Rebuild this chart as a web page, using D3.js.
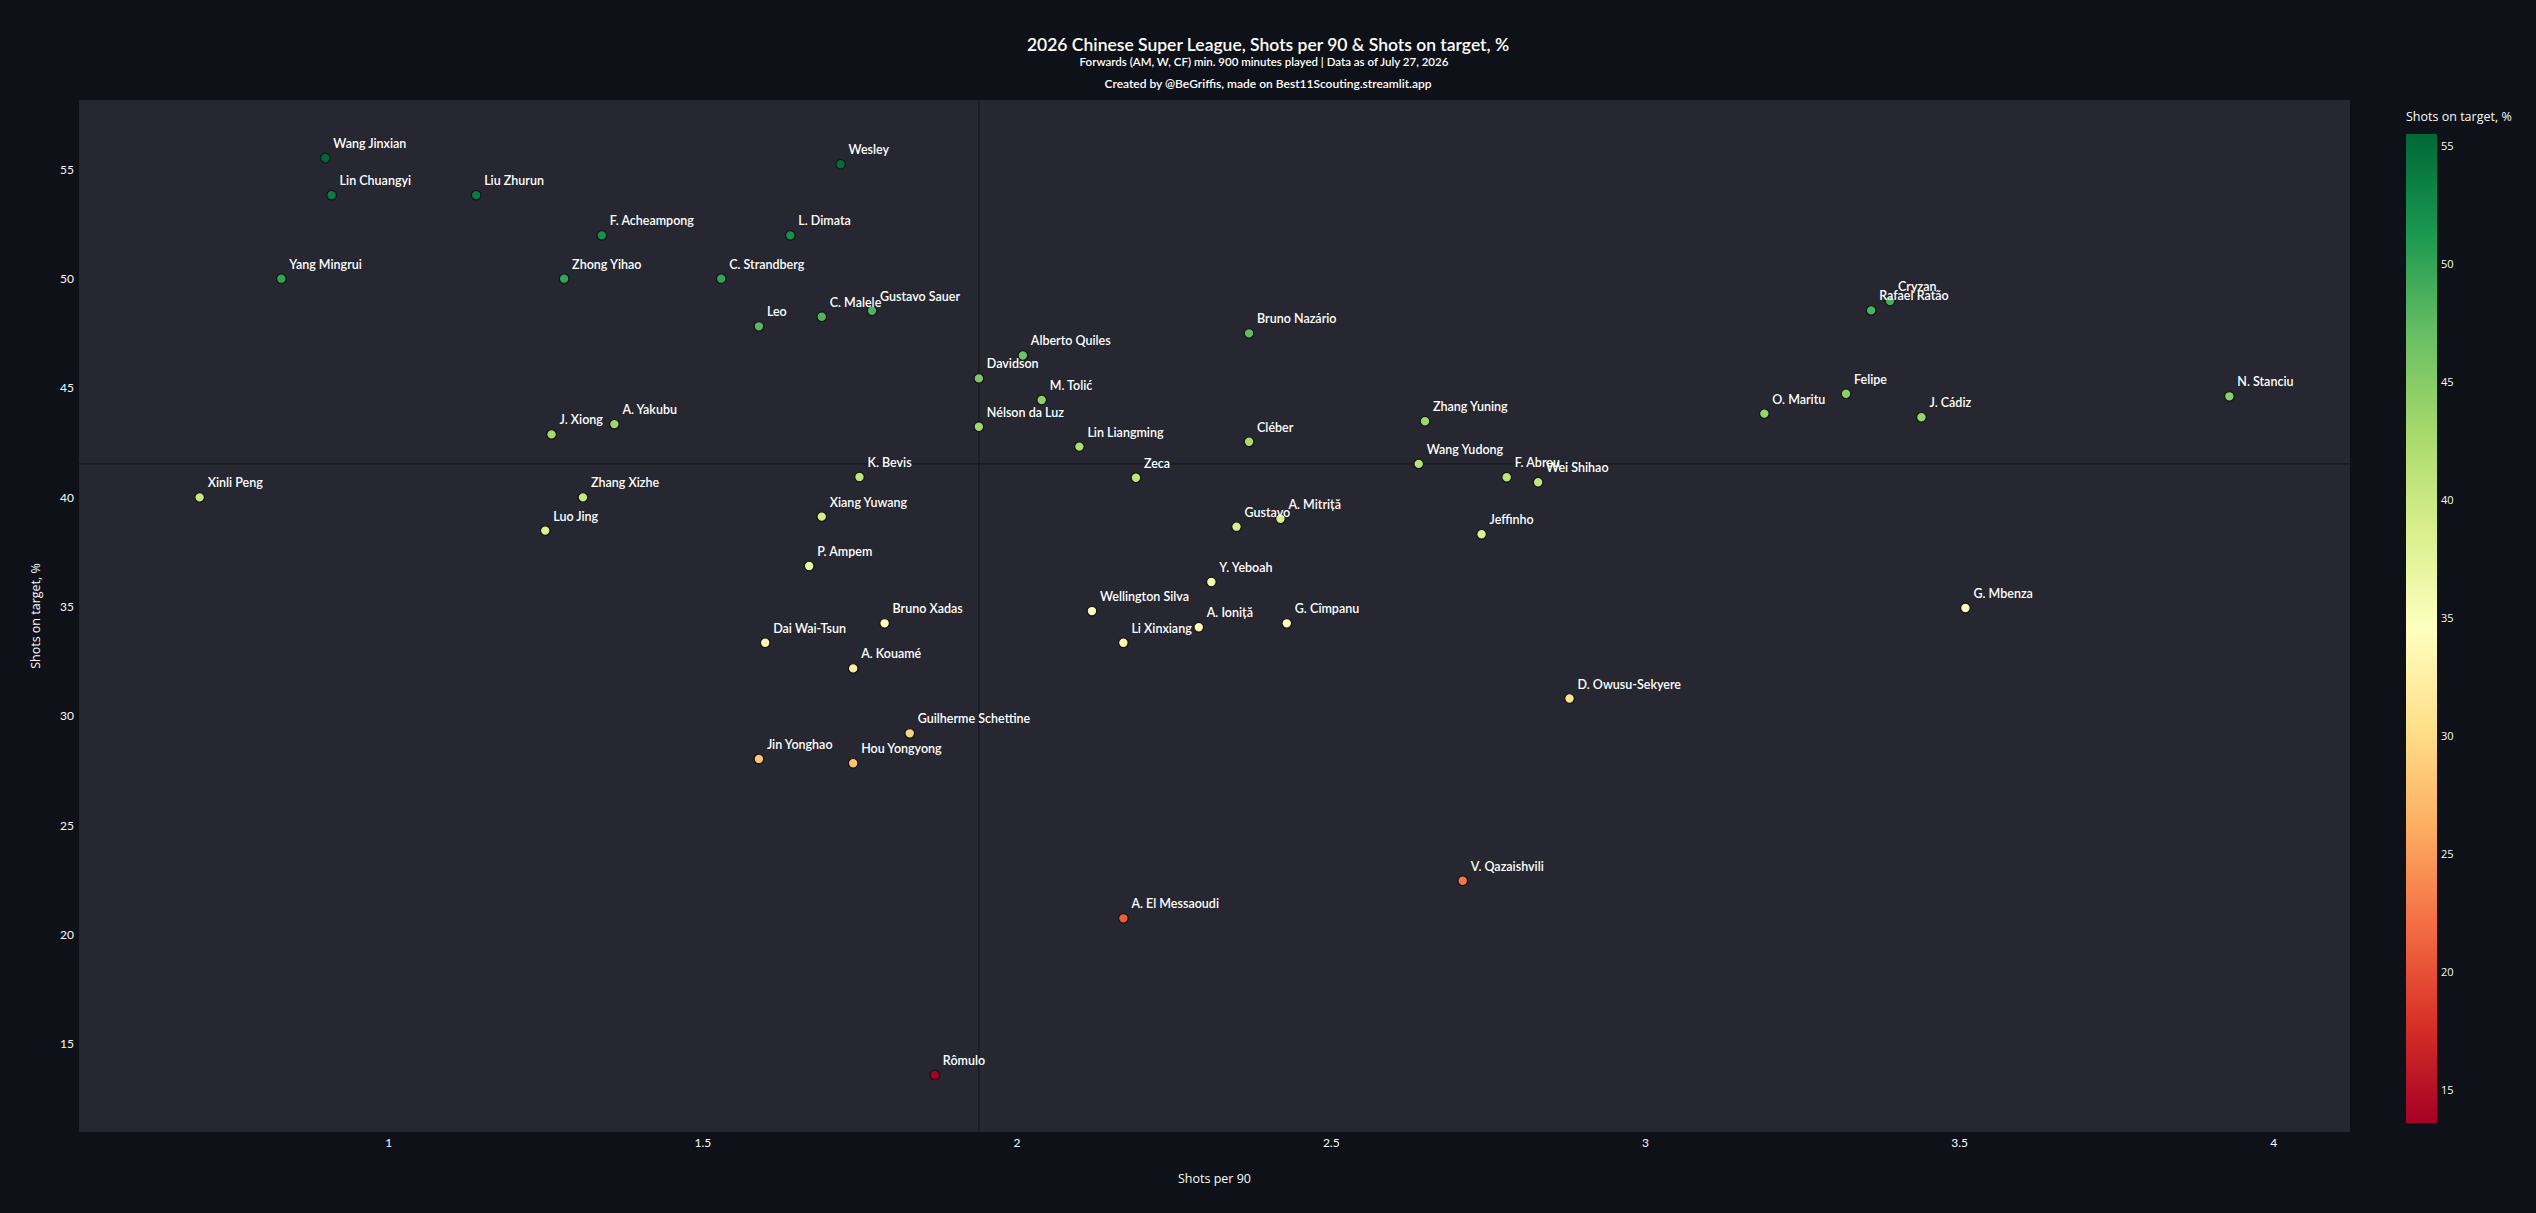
<!DOCTYPE html>
<html><head><meta charset="utf-8">
<script src="https://cdn.jsdelivr.net/npm/d3@7"></script>
<style>
html,body{margin:0;padding:0;background:#0e1117;overflow:hidden}
text{font-family:Lato,"Noto Sans",sans-serif}
</style>
</head><body>
<svg id="chart" width="2536" height="1213"></svg>
<script>
// ---- data ----
const players = ["Wang Jinxian","Lin Chuangyi","Liu Zhurun","Wesley","F. Acheampong","L. Dimata","Yang Mingrui","Zhong Yihao","C. Strandberg","Leo","C. Malele","Gustavo Sauer","Alberto Quiles","Davidson","M. Tolić","Bruno Nazário","Nélson da Luz","J. Xiong","A. Yakubu","Lin Liangming","Cléber","Zhang Yuning","Wang Yudong","F. Abreu","Wei Shihao","O. Maritu","Felipe","J. Cádiz","Cryzan","Rafael Ratão","N. Stanciu","Xinli Peng","Zhang Xizhe","K. Bevis","Zeca","Luo Jing","Xiang Yuwang","Gustavo","A. Mitriță","Jeffinho","P. Ampem","Y. Yeboah","Wellington Silva","Bruno Xadas","A. Ioniță","G. Cîmpanu","Li Xinxiang","Dai Wai-Tsun","A. Kouamé","G. Mbenza","D. Owusu-Sekyere","Guilherme Schettine","Jin Yonghao","Hou Yongyong","V. Qazaishvili","A. El Messaoudi","Rômulo"];
const shotsPer90 = [0.90,0.91,1.14,1.72,1.34,1.64,0.83,1.28,1.53,1.59,1.69,1.77,2.01,1.94,2.04,2.37,1.94,1.26,1.36,2.10,2.37,2.65,2.64,2.78,2.83,3.19,3.32,3.44,3.39,3.36,3.93,0.70,1.31,1.75,2.19,1.25,1.69,2.35,2.42,2.74,1.67,2.31,2.12,1.79,2.29,2.43,2.17,1.60,1.74,3.51,2.88,1.83,1.59,1.74,2.71,2.17,1.87];
const shotsOnTargetPct = [55.52,53.82,53.82,55.23,51.98,51.98,50.0,50.0,50.0,47.82,48.26,48.53,46.49,45.44,44.45,47.50,43.23,42.88,43.35,42.32,42.54,43.48,41.53,40.92,40.69,43.83,44.74,43.66,48.98,48.55,44.62,40.0,40.0,40.93,40.90,38.48,39.12,38.66,39.02,38.31,36.86,36.13,34.80,34.24,34.06,34.24,33.35,33.35,32.18,34.94,30.80,29.21,28.04,27.84,22.47,20.75,13.59];
const xTicks = [1,1.5,2,2.5,3,3.5,4];
const yTicks = [15,20,25,30,35,40,45,50,55];
const colorbarTicks = [15,20,25,30,35,40,45,50,55];
const colorStops = ["rgb(165,0,38)","rgb(215,48,39)","rgb(244,109,67)","rgb(253,174,97)","rgb(254,224,139)","rgb(255,255,191)","rgb(217,239,139)","rgb(166,217,106)","rgb(102,189,99)","rgb(26,152,80)","rgb(0,104,55)"];
const titleText = "2026 Chinese Super League, Shots per 90 & Shots on target, %";
const subtitleText = "Forwards (AM, W, CF) min. 900 minutes played | Data as of July 27, 2026";
const creditText = "Created by @BeGriffis, made on Best11Scouting.streamlit.app";
const xTitle = "Shots per 90";
const yTitle = "Shots on target, %";
const colorbarTitle = "Shots on target, %";

// ---- layout ----
const W = 2536, H = 1213;
const plot = {left: 79, right: 2350, top: 100, bottom: 1132};
const svg = d3.select("#chart");

const x = d3.scaleLinear().domain([0.508, 4.122]).range([plot.left, plot.right]);
const y = d3.scaleLinear().domain([10.98, 58.17]).range([plot.bottom, plot.top]);

const cmin = d3.min(shotsOnTargetPct), cmax = d3.max(shotsOnTargetPct);
const color = d3.scaleLinear()
  .domain(colorStops.map((c, i) => cmin + i * (cmax - cmin) / (colorStops.length - 1)))
  .range(colorStops).interpolate(d3.interpolateRgb);

// background
svg.append("rect").attr("width", W).attr("height", H).attr("fill", "#0e1117");
svg.append("rect").attr("x", plot.left).attr("y", plot.top)
  .attr("width", plot.right - plot.left).attr("height", plot.bottom - plot.top)
  .attr("fill", "#262730");

// median lines
const medX = d3.median(shotsPer90), medY = d3.median(shotsOnTargetPct);
svg.append("line").attr("x1", x(medX)).attr("x2", x(medX)).attr("y1", plot.top).attr("y2", plot.bottom)
  .attr("stroke", "#16181f").attr("stroke-width", 1.2);
svg.append("line").attr("x1", plot.left).attr("x2", plot.right).attr("y1", y(medY)).attr("y2", y(medY))
  .attr("stroke", "#16181f").attr("stroke-width", 1.2);

// axes
const xAxis = svg.append("g").attr("transform", `translate(0,${plot.bottom + 2})`)
  .call(d3.axisBottom(x).tickValues(xTicks).tickSize(0).tickPadding(4).tickFormat(d3.format("~g")));
const yAxis = svg.append("g").attr("transform", `translate(${plot.left - 3},0)`)
  .call(d3.axisLeft(y).tickValues(yTicks).tickSize(0).tickPadding(2).tickFormat(d3.format("~g")));
[xAxis, yAxis].forEach(g => {
  g.select(".domain").remove();
  g.selectAll("text").attr("fill", "#fafafa").style("font-size", "12px").style("font-family", "Lato");
});

// axis titles
svg.append("text").attr("x", (plot.left + plot.right) / 2).attr("y", 1183)
  .attr("text-anchor", "middle").attr("fill", "#fafafa")
  .style("font-family", "'Open Sans'").style("font-size", "12.5px").text(xTitle);
svg.append("text").attr("transform", `translate(40,${(plot.top + plot.bottom) / 2}) rotate(-90)`)
  .attr("text-anchor", "middle").attr("fill", "#fafafa")
  .style("font-family", "'Open Sans'").style("font-size", "12.5px").text(yTitle);

// points
const data = players.map((p, i) => ({name: p, x: shotsPer90[i], y: shotsOnTargetPct[i]}));
const pts = svg.append("g");
pts.selectAll("circle").data(data).join("circle")
  .attr("cx", d => x(d.x)).attr("cy", d => y(d.y)).attr("r", 4.8)
  .attr("fill", d => color(d.y)).attr("stroke", "#111318").attr("stroke-width", 1.2);
pts.selectAll("text").data(data).join("text")
  .attr("x", d => x(d.x) + 8).attr("y", d => y(d.y) - 10)
  .attr("fill", "#ffffff").style("font-size", "12.5px").style("font-weight", "600")
  .text(d => d.name);

// titles
svg.append("text").attr("x", 1268).attr("y", 51).attr("text-anchor", "middle")
  .attr("fill", "#ffffff").style("font-size", "17.5px").style("font-weight", "600").text(titleText);
svg.append("text").attr("x", 1264).attr("y", 66).attr("text-anchor", "middle")
  .attr("fill", "#ffffff").style("font-size", "11.5px").style("font-weight", "600").text(subtitleText);
svg.append("text").attr("x", 1268).attr("y", 88).attr("text-anchor", "middle")
  .attr("fill", "#ffffff").style("font-size", "12px").style("font-weight", "600").text(creditText);

// colorbar
const cb = {x: 2406, w: 31, top: 134, bottom: 1123};
const defs = svg.append("defs");
const grad = defs.append("linearGradient").attr("id", "cbgrad")
  .attr("x1", 0).attr("y1", 1).attr("x2", 0).attr("y2", 0);
colorStops.forEach((c, i) => grad.append("stop").attr("offset", i / (colorStops.length - 1)).attr("stop-color", c));
svg.append("rect").attr("x", cb.x).attr("y", cb.top).attr("width", cb.w).attr("height", cb.bottom - cb.top)
  .attr("fill", "url(#cbgrad)");
const cbScale = d3.scaleLinear().domain([cmin, cmax]).range([cb.bottom, cb.top]);
const cbAxis = svg.append("g").attr("transform", `translate(${cb.x + cb.w},0)`)
  .call(d3.axisRight(cbScale).tickValues(colorbarTicks).tickSize(0).tickPadding(4));
cbAxis.select(".domain").remove();
cbAxis.selectAll("text").attr("fill", "#fafafa").style("font-family", "'Open Sans'").style("font-size", "11px");
svg.append("text").attr("x", cb.x).attr("y", 121).attr("fill", "#fafafa")
  .style("font-family", "'Open Sans'").style("font-size", "12.5px").text(colorbarTitle);
</script>
</body></html>
